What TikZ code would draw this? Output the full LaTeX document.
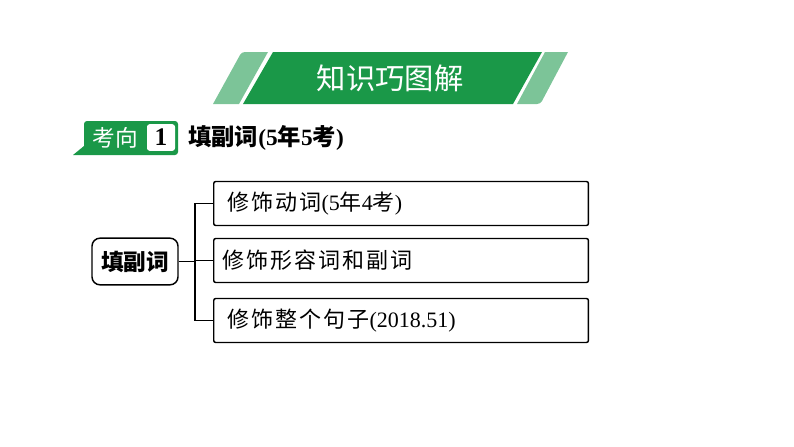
\documentclass[tikz,border=0pt]{standalone}
\usepackage{fontspec}
\setmainfont{Liberation Serif}
\newfontfamily\cjk{Noto Sans CJK SC}
\newfontfamily\cjkwide{Noto Sans CJK SC}[LetterSpace=9]
\usepackage{tikz}
\usetikzlibrary{positioning,calc}
\definecolor{bannergreen}{RGB}{26,152,72}
\definecolor{palegreen}{RGB}{124,196,152}
\newcommand{\zh}[1]{{\cjk #1}}
\newcommand{\zhw}[1]{{\cjkwide #1}}
\tikzset{
    banner/.style={fill=bannergreen},
    stripe/.style={fill=palegreen},
    root/.style={
        rectangle,
        rounded corners=6pt,
        draw=black, line width=1.1pt,
        minimum width=64.5pt,
        minimum height=35pt,
        font={\fontsize{17pt}{20pt}\selectfont\cjk\bfseries}
    },
    leaf/.style={
        rectangle,
        rounded corners=1.5pt,
        draw=black, line width=1.1pt,
        minimum height=33pt,
        text width=262pt,
        align=left,
        anchor=west,
        font={\fontsize{16.5pt}{19pt}\selectfont}
    },
    line/.style={draw, line width=1.1pt},
}
\begin{document}
\begin{tikzpicture}[x=0.75pt, y=-0.75pt]
\useasboundingbox (0,0) rectangle (794,447);

% title banner
\fill [stripe] (213,104) -- (240,55) to[out=60,in=180] (245,52) -- (268,52) -- (239,104) -- cycle;
\fill [banner] (243,104) -- (273,52) -- (542,52) -- (513,104) -- cycle;
\fill [stripe] (517,104) -- (545,52) -- (568,52) -- (542,101) to[out=240,in=0] (537,104) -- cycle;
\node [text=white, font={\fontsize{22pt}{26pt}\selectfont\cjk}] (title) at (390,78) {知识巧图解};

% tab
\fill [banner] (73,155) -- (84,146) -- (84,124) to[out=90,in=180] (87,121)
  -- (175,121) to[out=0,in=90] (178,124) -- (178,152) to[out=270,in=0] (175,155) -- cycle;
\node [text=white, font={\fontsize{17pt}{20pt}\selectfont\cjk}] (tab) at (115,138) {考向};
\node [fill=white, rounded corners=2pt, minimum width=21pt, minimum height=20pt,
  inner sep=0pt, font={\fontsize{19pt}{22pt}\selectfont\bfseries}] (num) at (161,137.5) {1};
\node [anchor=west, inner sep=0pt, font={\fontsize{17.5pt}{20pt}\selectfont\bfseries}]
  (head) at (188,138) {\zh{填副词}(5\zh{年}5\zh{考})};

% tree
\node [root] (root) at (135,261.5) {填副词};

\foreach \y/\pad/\t [count=\i] in {
    203.5/10.5pt/{\zhw{修饰动词}(5\zh{年}4\zh{考})},
    260.5/6.5pt/{\zhw{修饰形容词和副词}},
    320.5/10.5pt/{\zhw{修饰整个句子}(2018.51)}}
  \node [leaf, inner xsep=\pad, text width=281pt-2*\pad] (leaf-\i) at (213,\y) {\t};

\coordinate (fork) at (195,261.5);
\draw [line] (root) -- (fork);
\foreach \i in {1,...,3}
  \draw [line] (fork) |- (leaf-\i.west);

\end{tikzpicture}
\end{document}
